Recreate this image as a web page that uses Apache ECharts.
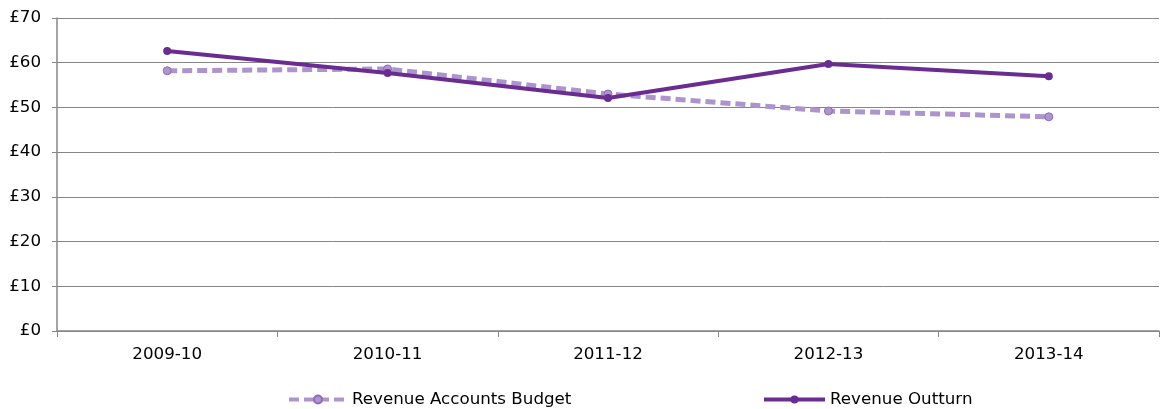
<!DOCTYPE html>
<html><head><meta charset="utf-8">
<script src="https://cdn.jsdelivr.net/npm/echarts@6/dist/echarts.min.js"></script>
<style>html,body{margin:0;padding:0;background:#fff}#c{width:1160px;height:409px}</style>
</head><body><div id="c"></div>
<script>
const categories = ['2009-10','2010-11','2011-12','2012-13','2013-14'];
const budget = [58.2, 58.6, 53.0, 49.2, 47.9];
const outturn = [62.6, 57.7, 52.1, 59.7, 57.0];
const seriesNames = ['Revenue Accounts Budget','Revenue Outturn'];

const font = '"DejaVu Sans", sans-serif';
const fs = 16.7;
const chart = echarts.init(document.getElementById('c'));
chart.setOption({
  animation: false,
  grid: {left: 57, right: 1, top: 18, bottom: 78},
  legend: [
    {data: [seriesNames[0]], left: 282, top: 386, itemWidth: 58, itemHeight: 10, itemGap: 0,
     lineStyle: {width: 4}, textStyle: {fontFamily: font, fontSize: fs, color: '#000'}},
    {data: [seriesNames[1]], left: 757, top: 386, itemWidth: 61, itemHeight: 10, itemGap: 0,
     lineStyle: {width: 4}, textStyle: {fontFamily: font, fontSize: fs, color: '#000'}}
  ],
  xAxis: {
    type: 'category', data: categories, boundaryGap: true,
    axisLine: {lineStyle: {color: '#868686', width: 1.5}},
    axisTick: {show: true, length: 6, lineStyle: {color: '#868686'}},
    axisLabel: {fontFamily: font, fontSize: fs, color: '#000', margin: 15}
  },
  yAxis: {
    type: 'value', min: 0, max: 70, interval: 10,
    axisLine: {show: true, lineStyle: {color: '#868686', width: 1.5}},
    axisTick: {show: true, length: 5, lineStyle: {color: '#868686'}},
    splitLine: {lineStyle: {color: '#868686', width: 1}},
    axisLabel: {fontFamily: font, fontSize: fs, color: '#000', margin: 16, formatter: v => '£' + v}
  },
  series: [
    {name: seriesNames[0], type: 'line', data: budget, symbol: 'circle', symbolSize: 8,
     lineStyle: {color: '#ae94cf', width: 5, type: [10, 5]},
     itemStyle: {color: '#ae94cf', borderColor: '#8f6bb8', borderWidth: 1}},
    {name: seriesNames[1], type: 'line', data: outturn, symbol: 'circle', symbolSize: 8,
     lineStyle: {color: '#6a2c91', width: 4},
     itemStyle: {color: '#6a2c91'}, z: 3}
  ]
});
</script></body></html>
